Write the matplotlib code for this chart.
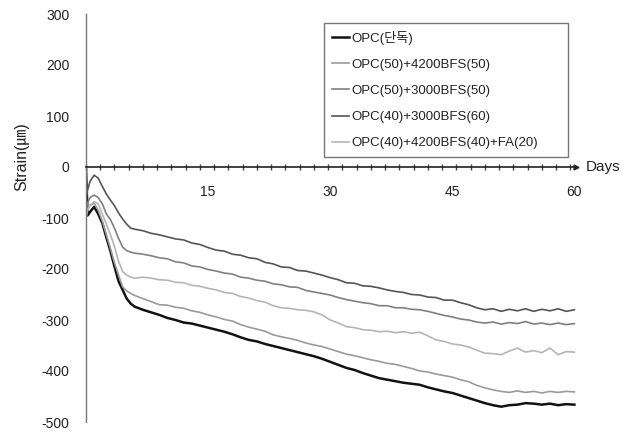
import numpy as np
import matplotlib
matplotlib.use("Agg")
import matplotlib.pyplot as plt
from matplotlib.ticker import MultipleLocator, FixedLocator

plt.rcParams['font.family'] = ['Liberation Sans', 'Noto Sans CJK KR', 'DejaVu Sans']
plt.rcParams['axes.unicode_minus'] = False

# sampling days: dense at the start, then daily
days_early = [0, 0.2, 0.5, 1.0, 1.5, 2.0, 2.5, 3.0, 3.5, 4.0, 4.5, 5.0, 5.5, 6.0, 7.0, 8.0, 9.0]
days = np.concatenate([days_early, np.arange(10, 61)])

labels = ["OPC(단독)", "OPC(50)+4200BFS(50)", "OPC(50)+3000BFS(50)",
          "OPC(40)+3000BFS(60)", "OPC(40)+4200BFS(40)+FA(20)"]

opc = [-5, -95, -88, -78, -92, -110, -138, -165, -195, -224, -241, -258, -268, -274, -280, -285, -290,
       -296, -300, -305, -307, -311, -315, -319, -323, -328, -334, -339, -342, -347, -351, -355, -359,
       -363, -367, -371, -376, -382, -388, -394, -398, -404, -409, -414, -417, -420, -423, -425, -427,
       -432, -436, -440, -443, -448, -453, -458, -463, -467, -470, -467, -466, -463, -464, -466, -464,
       -467, -465, -466]

bfs4200_50 = [-90, -80, -75, -71, -85, -106, -133, -160, -188, -212, -235, -243, -248, -252, -258, -264, -270,
              -271, -275, -277, -282, -285, -290, -294, -299, -302, -309, -314, -318, -322, -329, -333, -336,
              -340, -345, -349, -352, -357, -362, -367, -370, -374, -378, -381, -385, -387, -391, -395, -400,
              -402, -406, -409, -412, -417, -421, -428, -433, -437, -440, -442, -439, -442, -440, -443, -440,
              -442, -440, -441]

bfs3000_50 = [-85, -70, -60, -55, -60, -72, -92, -103, -120, -140, -157, -164, -167, -169, -171, -174, -178,
              -180, -186, -188, -194, -196, -201, -204, -208, -210, -216, -218, -222, -224, -229, -231, -235,
              -236, -242, -245, -248, -251, -256, -260, -263, -266, -268, -272, -272, -276, -276, -279, -280,
              -283, -287, -291, -294, -298, -300, -304, -306, -304, -308, -305, -307, -303, -308, -306, -309,
              -306, -309, -307]

bfs3000_60 = [-60, -45, -28, -16, -22, -38, -53, -65, -76, -90, -102, -112, -120, -122, -125, -130, -133,
              -137, -141, -143, -149, -152, -158, -163, -165, -171, -173, -178, -180, -187, -190, -196, -197,
              -203, -204, -208, -212, -217, -221, -227, -228, -233, -234, -237, -241, -244, -246, -250, -251,
              -255, -256, -261, -261, -266, -270, -276, -280, -278, -283, -279, -282, -278, -283, -279, -282,
              -278, -283, -280]

fa20 = [-100, -85, -75, -68, -72, -92, -112, -133, -156, -185, -205, -212, -216, -218, -216, -218, -221,
        -222, -226, -227, -232, -234, -238, -241, -246, -248, -254, -257, -262, -265, -272, -276, -277,
        -280, -281, -284, -290, -300, -306, -313, -315, -319, -320, -323, -322, -325, -323, -326, -324,
        -331, -339, -342, -347, -349, -353, -359, -365, -366, -368, -361, -355, -363, -360, -364, -355,
        -368, -362, -363]

series = [opc, bfs4200_50, bfs3000_50, bfs3000_60, fa20]
colors = ['#111111', '#9a9a9a', '#808080', '#555555', '#b5b5b5']
widths = [1.8, 1.2, 1.2, 1.2, 1.2]

fig = plt.figure(figsize=(6.32, 4.33), dpi=100)
ax = fig.add_axes([86 / 632, 1 - 422 / 433, 490 / 632, 408 / 433])

for y, c, lw, lab in zip(series, colors, widths, labels):
    ax.plot(days, y, color=c, lw=lw, label=lab)

ax.set_xlim(0, 60.2)
ax.set_ylim(-500, 300)

for s in ['top', 'right']:
    ax.spines[s].set_visible(False)
ax.spines['bottom'].set_position(('data', 0))
ax.spines['bottom'].set_color('#222222')
ax.spines['bottom'].set_linewidth(1.2)
ax.spines['left'].set_color('#777777')
ax.spines['left'].set_linewidth(1.0)

ax.yaxis.set_major_locator(MultipleLocator(100))
ax.tick_params(axis='y', length=0, pad=12, labelsize=10, labelcolor='#222222')
ax.xaxis.set_major_locator(FixedLocator([15, 30, 45, 60]))
ax.xaxis.set_minor_locator(MultipleLocator(1.75))
ax.tick_params(axis='x', which='major', length=0, pad=13, labelsize=10, labelcolor='#222222')
ax.tick_params(axis='x', which='minor', direction='inout', length=5, width=1, color='#444444')

# arrow head at the end of the x axis
ax.plot([60.2], [0], marker='>', markersize=3.5, color='#222222', clip_on=False)
ax.text(1.02, 0, "Days", transform=ax.get_yaxis_transform(), ha='left', va='center',
        fontsize=11, color='#222222')

fig.text(22 / 632, 1 - 157 / 433, "Strain(㎛)", rotation=90, ha='center', va='center',
         fontsize=11.5, color='#222222')

leg = ax.legend(loc='upper left', bbox_to_anchor=(0.486, 0.65, 0.498, 0.328), mode='expand',
                fontsize=9.5, handlelength=1.3, handletextpad=0.15, labelspacing=1.05,
                borderpad=0.6, frameon=True, fancybox=False, borderaxespad=0)
leg.get_frame().set_edgecolor('#555555')
leg.get_frame().set_linewidth(1.0)
for t in leg.get_texts():
    t.set_color('#222222')

fig.savefig("out.png", dpi=100)
